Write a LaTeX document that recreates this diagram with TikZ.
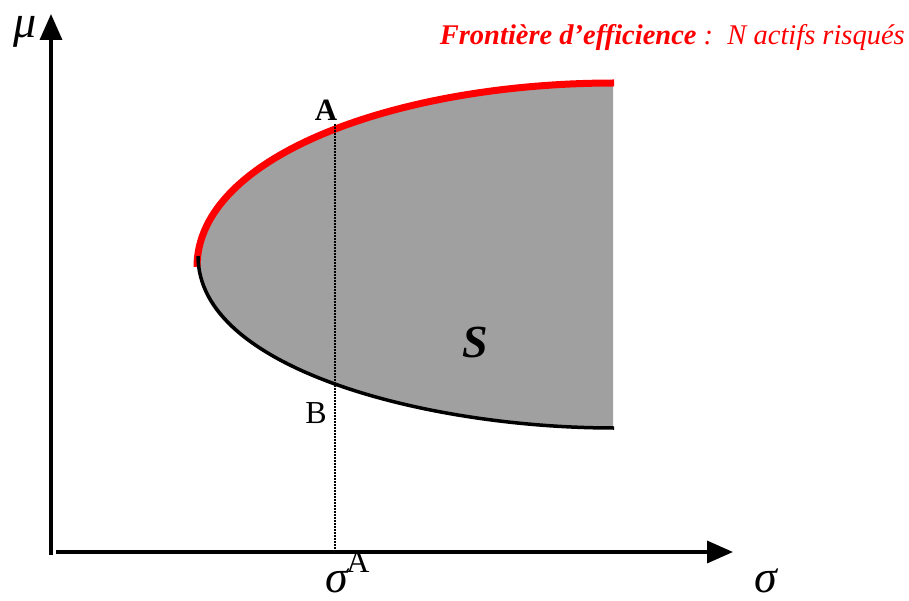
\documentclass[tikz,border=0pt]{standalone}
\usepackage{fontspec}
\setmainfont{Liberation Serif}
\usetikzlibrary{arrows.meta}
\definecolor{regiongray}{HTML}{A0A0A0}
\definecolor{frontred}{HTML}{FF0000}
\tikzset{
  axis/.style={line width=3.5pt,-{Triangle[length=26pt,width=22pt]}},
  efficient/.style={line width=7pt,frontred},
  lowerbranch/.style={line width=3.5pt,black},
  guide/.style={line width=2.6pt,dash pattern=on 1.8pt off 1.2pt,black},
  lbl/.style={inner sep=0pt,anchor=base,font=\fontsize{32}{32}\selectfont},
  greek/.style={inner sep=0pt,anchor=base,font=\fontsize{46}{46}\selectfont\itshape},
}
\begin{document}
\begin{tikzpicture}[x=1pt,y=-1pt]
\useasboundingbox (0,0) rectangle (909,601);
% coordinates
\coordinate (yb) at (51,555);
\coordinate (yt) at (51,14);
\coordinate (xb) at (56,552);
\coordinate (xt) at (733,552);
\coordinate (UE) at (614,83);
\coordinate (LE) at (614,428);
\coordinate (Atop) at (335,124);
\coordinate (Abot) at (335,552);
% region S
\fill[regiongray] (198,262) .. controls (198,155) and (400,84) .. (613,84)
  -- (613,428) .. controls (430,428) and (198,370) .. (198,262) -- cycle;
% curves
\draw[efficient] (197,267) .. controls (197,155) and (400,83) .. (UE);
\draw[lowerbranch] (198,256) .. controls (198,370) and (430,428) .. (LE);
% dotted guide
\draw[guide] (Atop) -- (Abot);
% axes
\draw[axis] (yb) -- (yt);
\draw[axis] (xb) -- (xt);
% labels
\node[greek] (mu) at (25,38) {μ};
\node[greek] (sig) at (766,592) {σ};
\node[greek] (sigA) at (337,592) {σ};
\node[lbl] (supA) at (358,572) {A};
\node[lbl,font=\fontsize{31}{31}\selectfont\bfseries] (A) at (326,121) {A};
\node[lbl] (B) at (316,423) {B};
\node[inner sep=0pt,anchor=base,font=\fontsize{46}{46}\selectfont\bfseries\itshape] (S) at (475,357) {S};
\node[inner sep=0pt,anchor=base east,text=frontred,font=\fontsize{28.5}{28.5}\selectfont\itshape] (title) at (905,45)
  {\textbf{Frontière d’efficience} :\ \ N actifs risqués};
\end{tikzpicture}
\end{document}
